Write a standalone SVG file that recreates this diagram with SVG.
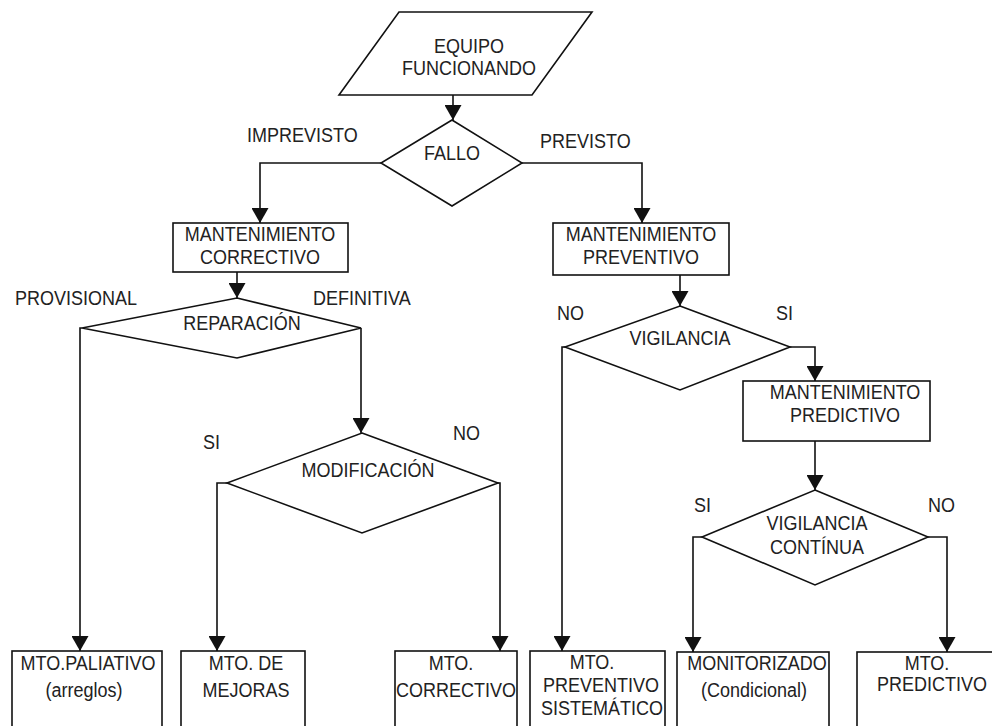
<svg xmlns="http://www.w3.org/2000/svg" width="992" height="726" viewBox="0 0 992 726">
  <style>
    .shape { fill: #ffffff; stroke: #111111; stroke-width: 1.6; }
    .wire { fill: none; stroke: #111111; stroke-width: 1.6; marker-end: url(#head); }
    text { font-family: "Liberation Sans", Arial, sans-serif; font-size: 18px; fill: #222222; text-anchor: middle; dominant-baseline: central;
           transform-box: fill-box; transform-origin: center; transform: scaleY(1.14); }
    .lbl { text-anchor: start; }
  </style>
  <defs>
    <marker id="head" markerUnits="userSpaceOnUse" markerWidth="15" markerHeight="17" refX="15" refY="8.5" orient="auto" viewBox="0 0 15 17">
      <path d="M0,0 L15,8.5 L0,17 Z" fill="#111111"/>
    </marker>
  </defs>
  <rect width="992" height="726" fill="#ffffff"/>

  <!-- start node -->
  <g id="equipo">
    <polygon class="shape" points="399,12 592,12 532,95 339,95"/>
    <text x="469" y="46">EQUIPO</text>
    <text x="469" y="68">FUNCIONANDO</text>
  </g>

  <!-- decisions -->
  <g id="fallo">
    <polygon class="shape" points="452,120 522,163 452,206 381,163"/>
    <text x="452" y="153">FALLO</text>
  </g>
  <g id="reparacion">
    <polygon class="shape" points="237,298 361,328 237,358 82,328"/>
    <text x="242" y="323">REPARACIÓN</text>
  </g>
  <g id="modificacion">
    <polygon class="shape" points="362,433 498,483 362,533 227,483"/>
    <text x="368" y="470">MODIFICACIÓN</text>
  </g>
  <g id="vigilancia">
    <polygon class="shape" points="680,306 790,347 680,390 565,347"/>
    <text x="680" y="338">VIGILANCIA</text>
  </g>
  <g id="vigilancia-continua">
    <polygon class="shape" points="815,490 928,537 815,585 702,537"/>
    <text x="817" y="523">VIGILANCIA</text>
    <text x="817" y="547">CONTÍNUA</text>
  </g>

  <!-- process boxes -->
  <g id="mant-correctivo">
    <rect class="shape" x="173" y="223" width="175" height="49"/>
    <text x="260" y="234">MANTENIMIENTO</text>
    <text x="260" y="257">CORRECTIVO</text>
  </g>
  <g id="mant-preventivo">
    <rect class="shape" x="553" y="223" width="176" height="52"/>
    <text x="641" y="234">MANTENIMIENTO</text>
    <text x="641" y="257">PREVENTIVO</text>
  </g>
  <g id="mant-predictivo">
    <rect class="shape" x="743" y="381" width="187" height="60"/>
    <text x="845" y="392">MANTENIMIENTO</text>
    <text x="845" y="415">PREDICTIVO</text>
  </g>

  <!-- outcome boxes -->
  <g id="mto-paliativo">
    <rect class="shape" x="12" y="651" width="150" height="90"/>
    <text x="88" y="663">MTO.PALIATIVO</text>
    <text x="84" y="690">(arreglos)</text>
  </g>
  <g id="mto-mejoras">
    <rect class="shape" x="181" y="651" width="124" height="90"/>
    <text x="246" y="663">MTO. DE</text>
    <text x="246" y="690">MEJORAS</text>
  </g>
  <g id="mto-correctivo">
    <rect class="shape" x="395" y="651" width="122" height="90"/>
    <text x="451" y="663">MTO.</text>
    <text x="456" y="690">CORRECTIVO</text>
  </g>
  <g id="mto-preventivo">
    <rect class="shape" x="530" y="651" width="135" height="90"/>
    <text x="592" y="662">MTO.</text>
    <text x="601" y="685">PREVENTIVO</text>
    <text x="602" y="708">SISTEMÁTICO</text>
  </g>
  <g id="mto-monitorizado">
    <rect class="shape" x="677" y="652" width="152" height="90"/>
    <text x="757" y="663">MONITORIZADO</text>
    <text x="754" y="690">(Condicional)</text>
  </g>
  <g id="mto-predictivo">
    <rect class="shape" x="857" y="652" width="150" height="90"/>
    <text x="927" y="663">MTO.</text>
    <text x="932" y="684">PREDICTIVO</text>
  </g>

  <!-- connectors -->
  <g id="connectors">
    <path class="wire" d="M453,95 L453,120"/>
    <path class="wire" d="M381,163 L260,163 L260,223"/>
    <path class="wire" d="M522,163 L642,163 L642,223"/>
    <path class="wire" d="M237,272 L237,298"/>
    <path class="wire" d="M82,328 L80,328 L80,651"/>
    <path class="wire" d="M361,328 L361,433"/>
    <path class="wire" d="M227,483 L217,483 L217,651"/>
    <path class="wire" d="M498,483 L500,483 L500,651"/>
    <path class="wire" d="M680,275 L680,306"/>
    <path class="wire" d="M565,347 L562,347 L562,651"/>
    <path class="wire" d="M790,347 L815,347 L815,381"/>
    <path class="wire" d="M815,441 L815,490"/>
    <path class="wire" d="M702,537 L693,537 L693,652"/>
    <path class="wire" d="M928,537 L947,537 L947,652"/>
  </g>

  <!-- branch labels -->
  <g id="labels">
    <text class="lbl" x="247" y="135">IMPREVISTO</text>
    <text class="lbl" x="540" y="141">PREVISTO</text>
    <text class="lbl" x="15" y="298">PROVISIONAL</text>
    <text class="lbl" x="313" y="298">DEFINITIVA</text>
    <text class="lbl" x="203" y="442">SI</text>
    <text class="lbl" x="453" y="433">NO</text>
    <text class="lbl" x="557" y="313">NO</text>
    <text class="lbl" x="776" y="313">SI</text>
    <text class="lbl" x="694" y="505">SI</text>
    <text class="lbl" x="928" y="505">NO</text>
  </g>
</svg>
